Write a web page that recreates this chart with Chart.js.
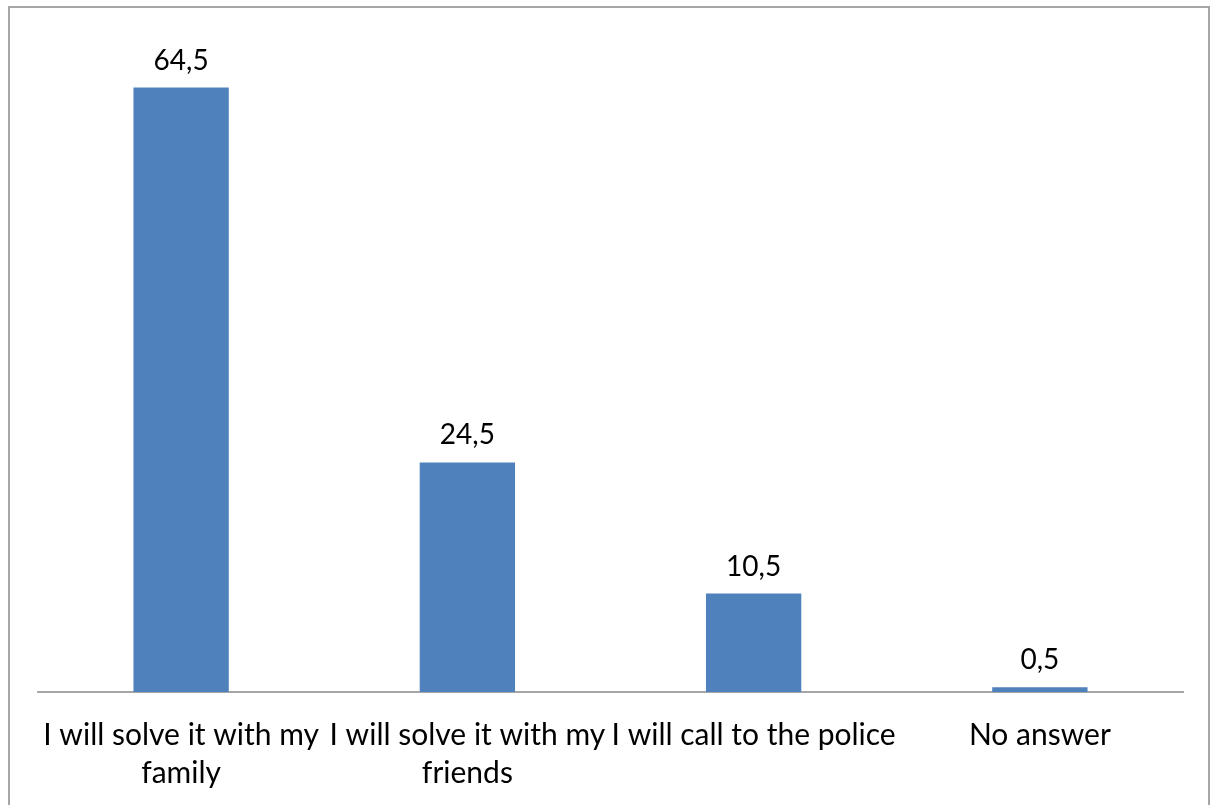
<!DOCTYPE html>
<html>
<head>
<meta charset="utf-8">
<script src="https://cdn.jsdelivr.net/npm/chart.js@4"></script>
<style>
  html, body { margin: 0; padding: 0; background: #fff; overflow: hidden; }
  #wrap { position: relative; width: 1218px; height: 805px; }
  #frame { position: absolute; left: 8px; top: 6px; width: 1202px; height: 820px; border: 2px solid #a6a6a6; box-sizing: border-box; }
  canvas { position: absolute; left: 0; top: 0; }
</style>
</head>
<body>
<div id="wrap">
  <div id="frame"></div>
  <canvas id="chart" width="1218" height="805"></canvas>
</div>
<script>
// Chart data
const categories = [
  ['I will solve it with my', 'family'],
  ['I will solve it with my', 'friends'],
  'I will call to the police',
  'No answer'
];
const values = [64.5, 24.5, 10.5, 0.5];

const fontFamily = 'Lato, "Open Sans", sans-serif';

// Draw value labels above bars, with comma decimals
const valueLabels = {
  id: 'valueLabels',
  afterDatasetsDraw(chart) {
    const ctx = chart.ctx;
    const meta = chart.getDatasetMeta(0);
    ctx.save();
    ctx.font = '28px ' + fontFamily;
    ctx.fillStyle = '#000';
    ctx.textAlign = 'center';
    ctx.textBaseline = 'middle';
    meta.data.forEach((bar, i) => {
      const txt = values[i].toFixed(1).replace('.', ',');
      ctx.fillText(txt, bar.x, bar.y - 27);
    });
    ctx.restore();
  }
};

const ctx = document.getElementById('chart').getContext('2d');
new Chart(ctx, {
  type: 'bar',
  data: {
    labels: categories,
    datasets: [{
      data: values,
      backgroundColor: '#4f81bd',
      categoryPercentage: 1,
      barPercentage: 0.333
    }]
  },
  options: {
    responsive: false,
    animation: false,
    layout: { padding: { left: 38, right: 35, top: 36, bottom: 0 } },
    plugins: {
      legend: { display: false },
      tooltip: { enabled: false }
    },
    scales: {
      x: {
        grid: { display: false },
        border: { display: true, color: '#a6a6a6', width: 2 },
        ticks: {
          color: '#000',
          font: { family: fontFamily, size: 30, lineHeight: 1.27 },
          padding: 16,
          maxRotation: 0,
          autoSkip: false
        },
        afterFit(scale) {
          scale.height = 113;
        }
      },
      y: {
        display: false,
        min: 0,
        max: 70
      }
    }
  },
  plugins: [valueLabels]
});
</script>
</body>
</html>
